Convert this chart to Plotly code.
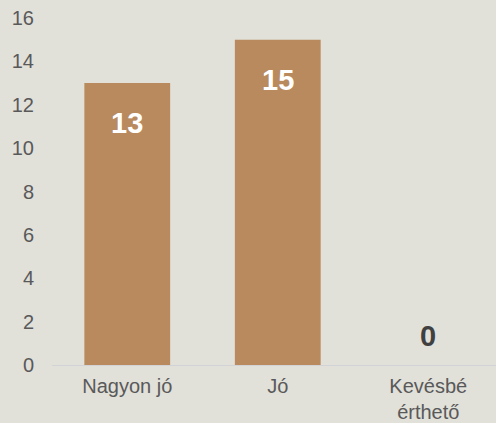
import plotly.graph_objects as go

categories = ["Nagyon jó", "Jó", "Kevésbé<br>érthető"]
values = [13, 15, 0]
y_ticks = [0, 2, 4, 6, 8, 10, 12, 14, 16]

BG = "#E1E0D9"
BAR = "#B98A5E"
FONT = "Arial, Liberation Sans, sans-serif"

fig = go.Figure()
fig.add_trace(go.Bar(
    x=categories, y=values, width=0.57,
    marker=dict(color=BAR, line=dict(width=0)),
    hoverinfo="skip",
))

for c, v in zip(categories, values):
    inside = v > 1
    fig.add_annotation(
        x=c, y=v, text=f"<b>{v}</b>", showarrow=False,
        yanchor="middle", yshift=-40 if inside else 29,
        font=dict(family=FONT, size=29, color="#FFFFFF" if inside else "#404040"),
    )

fig.update_layout(
    width=496, height=423,
    margin=dict(l=52, r=0, t=18, b=58, pad=0),
    paper_bgcolor=BG, plot_bgcolor=BG,
    showlegend=False,
    font=dict(family=FONT, size=20, color="#595959"),
    xaxis=dict(
        range=[-0.5, 2.45], showgrid=False, zeroline=False,
        showline=True, linecolor="#D2D3D6", linewidth=1,
        ticks="", tickfont=dict(size=20, color="#595959"),
        ticklabelstandoff=3, fixedrange=True, automargin=False,
    ),
    yaxis=dict(
        range=[0, 16], tickvals=y_ticks, showgrid=False, zeroline=False,
        showline=False, ticks="", tickfont=dict(size=20, color="#595959"),
        ticklabelstandoff=17, fixedrange=True, automargin=False,
    ),
)

fig.write_html(
    "out.html",
    config={"displayModeBar": False},
    post_script="document.body.style.margin='0';document.body.style.padding='0';",
)
